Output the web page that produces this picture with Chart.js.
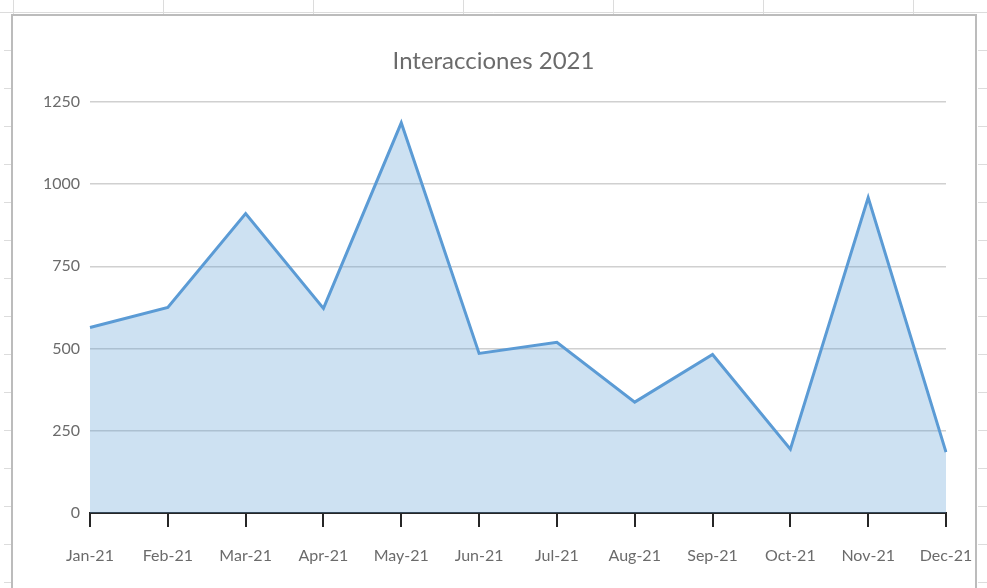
<!DOCTYPE html>
<html>
<head>
<meta charset="utf-8">
<script src="https://cdn.jsdelivr.net/npm/chart.js@4"></script>
<style>
html,body{margin:0;padding:0;background:#fff;}
#wrap{position:absolute;left:0;top:0;width:987px;height:588px;}
</style>
</head>
<body>
<div id="wrap"><canvas id="c" width="987" height="588"></canvas></div>
<script>
const categories = ["Jan-21","Feb-21","Mar-21","Apr-21","May-21","Jun-21","Jul-21","Aug-21","Sep-21","Oct-21","Nov-21","Dec-21"];
const interacciones = [564, 625, 910, 622, 1186, 485, 519, 337, 482, 194, 959, 185];
const yTicks = [0, 250, 500, 750, 1000, 1250];
const chartTitle = "Interacciones 2021";

const backdrop = {
  id: 'backdrop',
  beforeDraw(chart) {
    const ctx = chart.ctx;
    ctx.save();
    ctx.fillStyle = '#ffffff';
    ctx.fillRect(0, 0, chart.width, chart.height);
    ctx.strokeStyle = '#dcdcdc';
    ctx.lineWidth = 1;
    ctx.beginPath();
    ctx.moveTo(0, 12.5); ctx.lineTo(chart.width, 12.5);
    for (let x = 13; x < chart.width; x += 150) { ctx.moveTo(x + 0.5, 0); ctx.lineTo(x + 0.5, 14); }
    for (let y = 12; y < chart.height; y += 38) {
      ctx.moveTo(4, y + 0.5); ctx.lineTo(11, y + 0.5);
      ctx.moveTo(978, y + 0.5); ctx.lineTo(987, y + 0.5);
    }
    ctx.stroke();
    ctx.fillStyle = '#ffffff';
    ctx.fillRect(12, 15, 964, 590);
    ctx.strokeStyle = '#bcbcbc';
    ctx.lineWidth = 2;
    ctx.strokeRect(12, 15, 964, 590);
    ctx.restore();
  }
};

new Chart(document.getElementById('c'), {
  type: 'line',
  data: {
    labels: categories,
    datasets: [{
      label: chartTitle,
      data: interacciones,
      borderColor: '#5b9bd5',
      backgroundColor: 'rgba(91,155,213,0.30)',
      borderWidth: 3,
      fill: 'origin',
      tension: 0,
      pointRadius: 0,
      pointHoverRadius: 0
    }]
  },
  options: {
    responsive: false,
    animation: false,
    layout: { padding: { left: 41, right: 41, top: 15, bottom: 0 } },
    plugins: {
      legend: { display: false },
      tooltip: { enabled: false },
      title: {
        display: true,
        text: chartTitle,
        color: '#6b6b6b',
        font: { family: 'Lato', size: 24, weight: 'normal' },
        padding: { top: 32, bottom: 26 }
      }
    },
    scales: {
      x: {
        offset: false,
        border: { display: true, color: '#262626', width: 2 },
        grid: { display: true, drawOnChartArea: false, drawTicks: true, tickLength: 14, color: '#262626', lineWidth: 2 },
        ticks: { color: '#6b6b6b', font: { family: 'Lato', size: 16 }, padding: 19, maxRotation: 0, autoSkip: false },
        afterFit(scale) { scale.height = 75; scale.paddingLeft = 0; scale.paddingRight = 0; }
      },
      y: {
        min: 0,
        max: 1250,
        afterBuildTicks(scale) { scale.ticks = yTicks.map(v => ({ value: v })); },
        border: { display: false },
        grid: { color: '#d0d0d0', lineWidth: 1.5, drawTicks: false },
        ticks: { color: '#6b6b6b', font: { family: 'Lato', size: 16 }, padding: 10, callback: v => String(v) },
        afterFit(scale) { scale.width = 49; scale.paddingTop = 0; scale.paddingBottom = 0; }
      }
    }
  },
  plugins: [backdrop]
});
</script>
</body>
</html>
